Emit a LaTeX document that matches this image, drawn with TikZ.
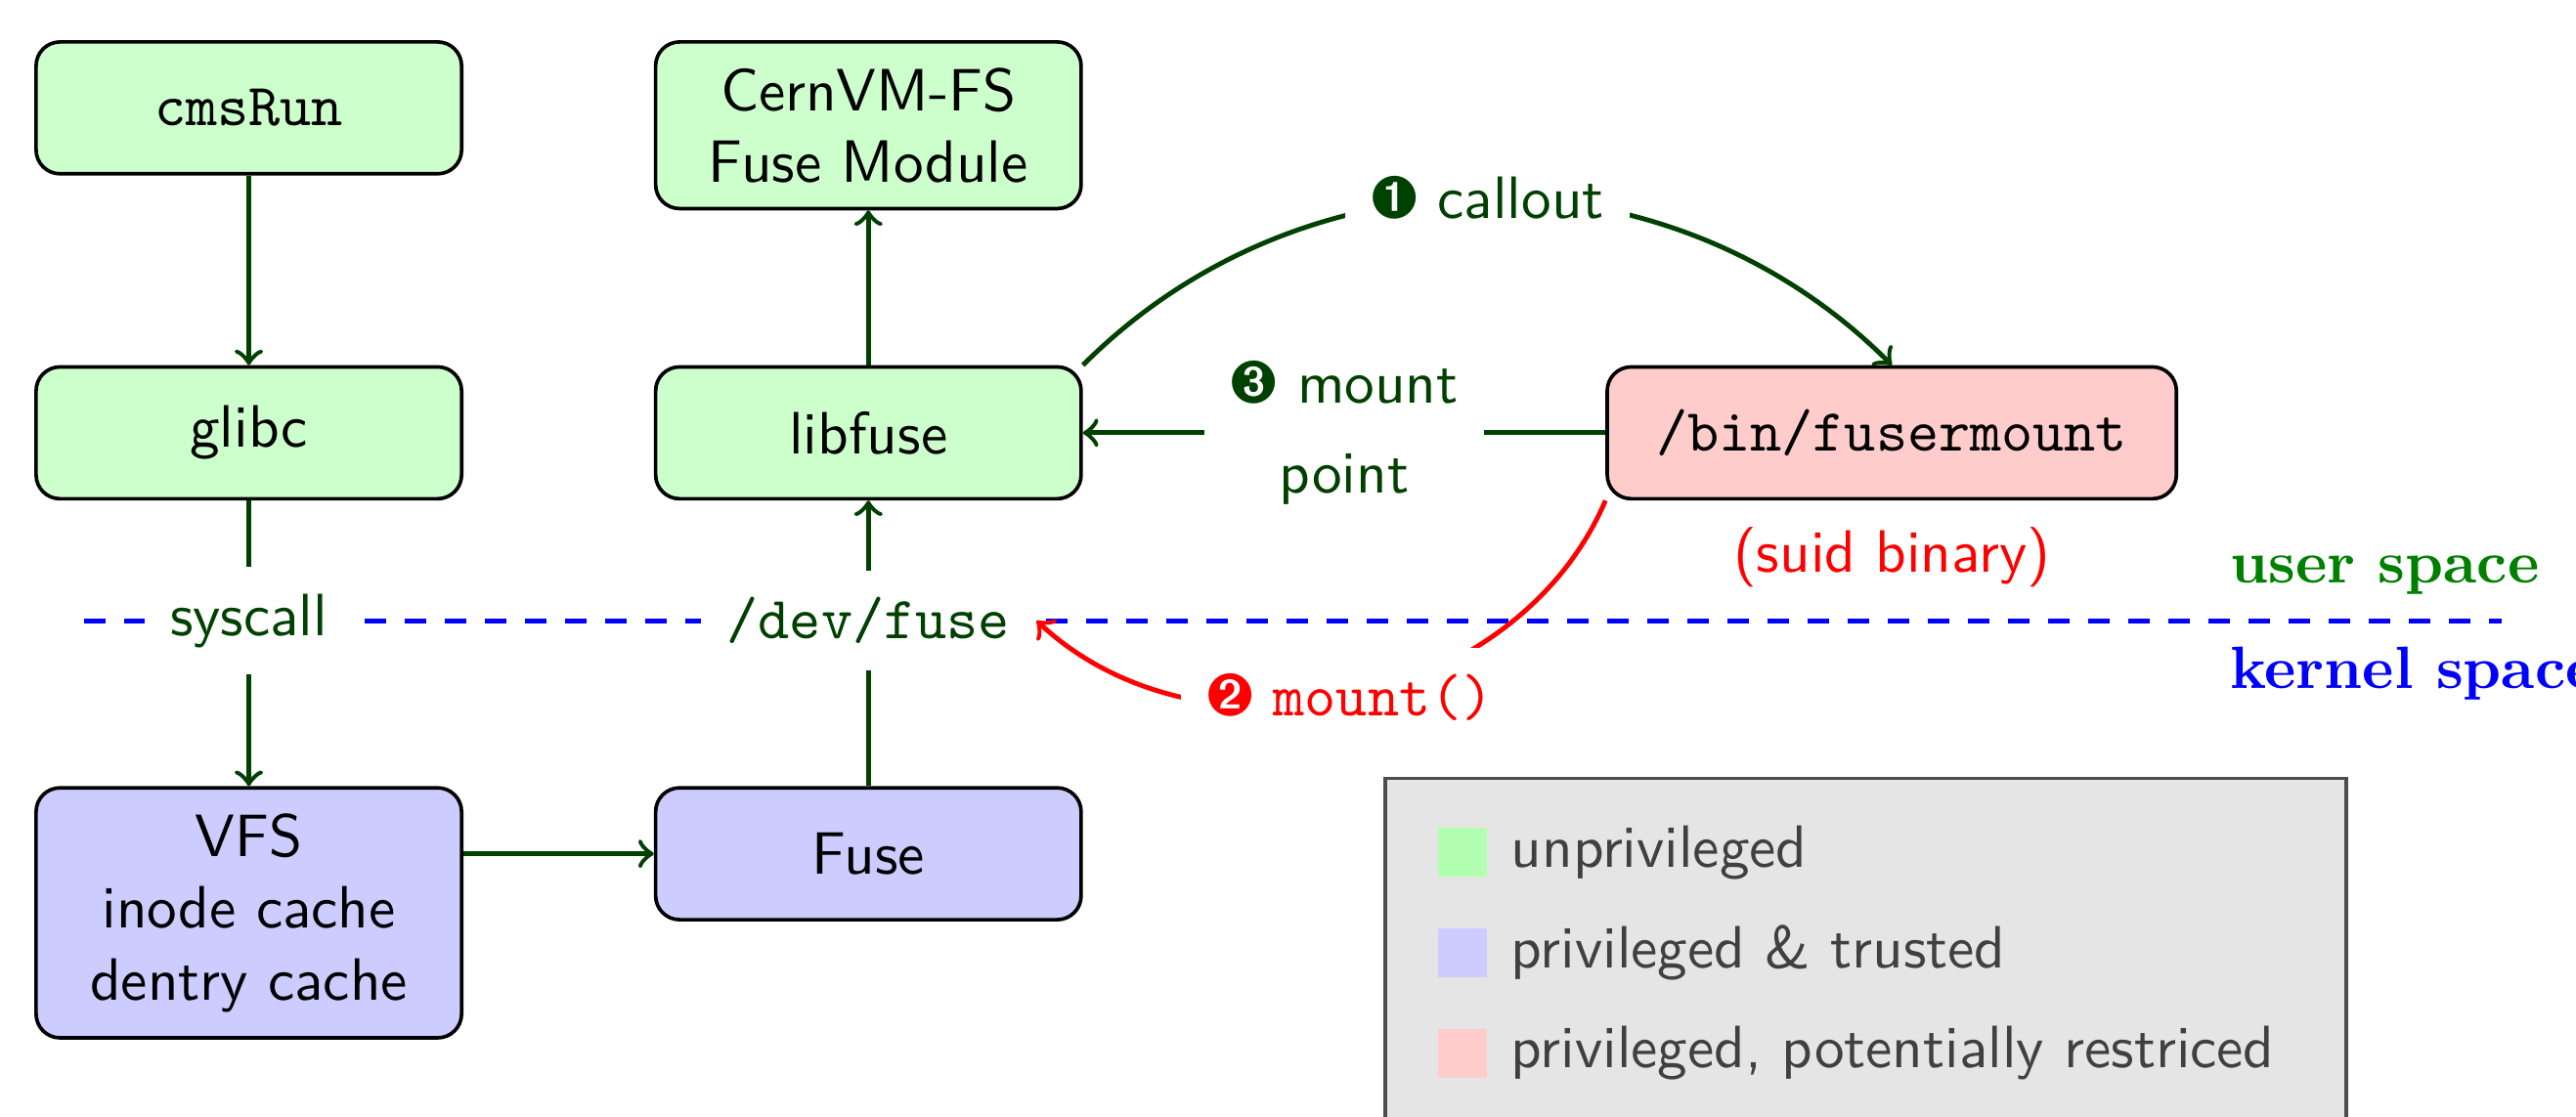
\documentclass[tikz,border=0pt]{standalone}
\usepackage{tikz}
\usepackage{xcolor}
\usepackage{pifont}
\usetikzlibrary{positioning}

\definecolor{dkgreen}{rgb}{0,0.25,0}

\tikzset{
    box/.style={draw, semithick, rounded corners, anchor=north, align=center,
        minimum width=2.5cm, minimum height=0.775cm, inner xsep=8.2pt, inner ysep=4.3pt,
        font=\sffamily},
    unpriv/.style={box, fill=green!20},
    trusted/.style={box, fill=blue!20},
    restricted/.style={box, fill=red!20},
    lbl/.style={fill=white, inner sep=4.3pt, align=center, font=\sffamily, text=dkgreen},
    flow/.style={->, thick, dkgreen},
    legsq/.style={minimum size=0.29cm, inner sep=0pt},
    legtxt/.style={inner sep=0pt, font=\sffamily, text=black!75},
}

\begin{document}
\begin{tikzpicture}
    \useasboundingbox (0, 0) rectangle (15.135, -6.56);

    \draw[thick, blue, dash pattern=on 3.6pt off 3.1pt] (0.492, -3.648) -- (14.697, -3.648);

    \node[unpriv] (cmsrun) at (1.462, -0.236) {\texttt{cmsRun}};
    \node[unpriv] (cvmfs) at (5.102, -0.236) {CernVM-FS\\Fuse Module};
    \node[unpriv] (glibc) at (1.462, -2.146) {glibc};
    \node[unpriv] (libfuse) at (5.102, -2.146) {libfuse};
    \node[restricted] (fuser) at (11.115, -2.146) {\texttt{/bin/fusermount}};
    \node[trusted] (vfs) at (1.462, -4.620) {VFS\\inode cache\\dentry cache};
    \node[trusted] (fuse) at (5.102, -4.620) {Fuse};

    \node[lbl] (syscall) at (1.462, -3.648) {syscall};
    \node[lbl] (devfuse) at (5.102, -3.648) {\texttt{/dev/fuse}};
    \node[below=0pt of fuser, inner sep=4.3pt, font=\sffamily, text=red] (suid) {(suid binary)};

    \node[anchor=base west, inner sep=0pt, font=\bfseries, text=green!50!black] (usersp) at (13.096, -3.429) {user space};
    \node[anchor=base west, inner sep=0pt, font=\bfseries, text=blue] (kernelsp) at (13.096, -4.044) {kernel space};

    \draw[flow] (cmsrun) -- (glibc);
    \draw[thick, dkgreen] (glibc) -- (syscall);
    \draw[flow] (syscall) -- (vfs);
    \draw[flow] (vfs.east |- fuse.west) -- (fuse.west);
    \draw[thick, dkgreen] (fuse) -- (devfuse);
    \draw[flow] (devfuse) -- (libfuse);
    \draw[flow] (libfuse) -- (cvmfs);
    \draw[flow] (libfuse.north east) to[bend left=45] node[lbl] {\ding{202} callout} (fuser.north);
    \draw[->, thick, red] (fuser.south west) to[bend left=55] node[lbl, text=red] {\ding{203} \texttt{mount()}} (devfuse.east);
    \draw[flow] (fuser) -- node[lbl] {\ding{204} mount\\[3pt] point} (libfuse);

    \draw[semithick, draw=black!70, fill=black!10] (8.137, -4.575) rectangle (13.785, -6.9);
    \node[legsq, fill=green!30] (lgunpriv) at (8.593, -5.010) {};
    \node[legsq, fill=blue!20] (lgtrust) at (8.593, -5.601) {};
    \node[legsq, fill=red!20] (lgrestr) at (8.593, -6.192) {};
    \node[legtxt, right=3.6pt of lgunpriv] {unprivileged};
    \node[legtxt, right=3.6pt of lgtrust] {privileged \& trusted};
    \node[legtxt, right=3.6pt of lgrestr] {privileged, potentially restriced};
\end{tikzpicture}
\end{document}
